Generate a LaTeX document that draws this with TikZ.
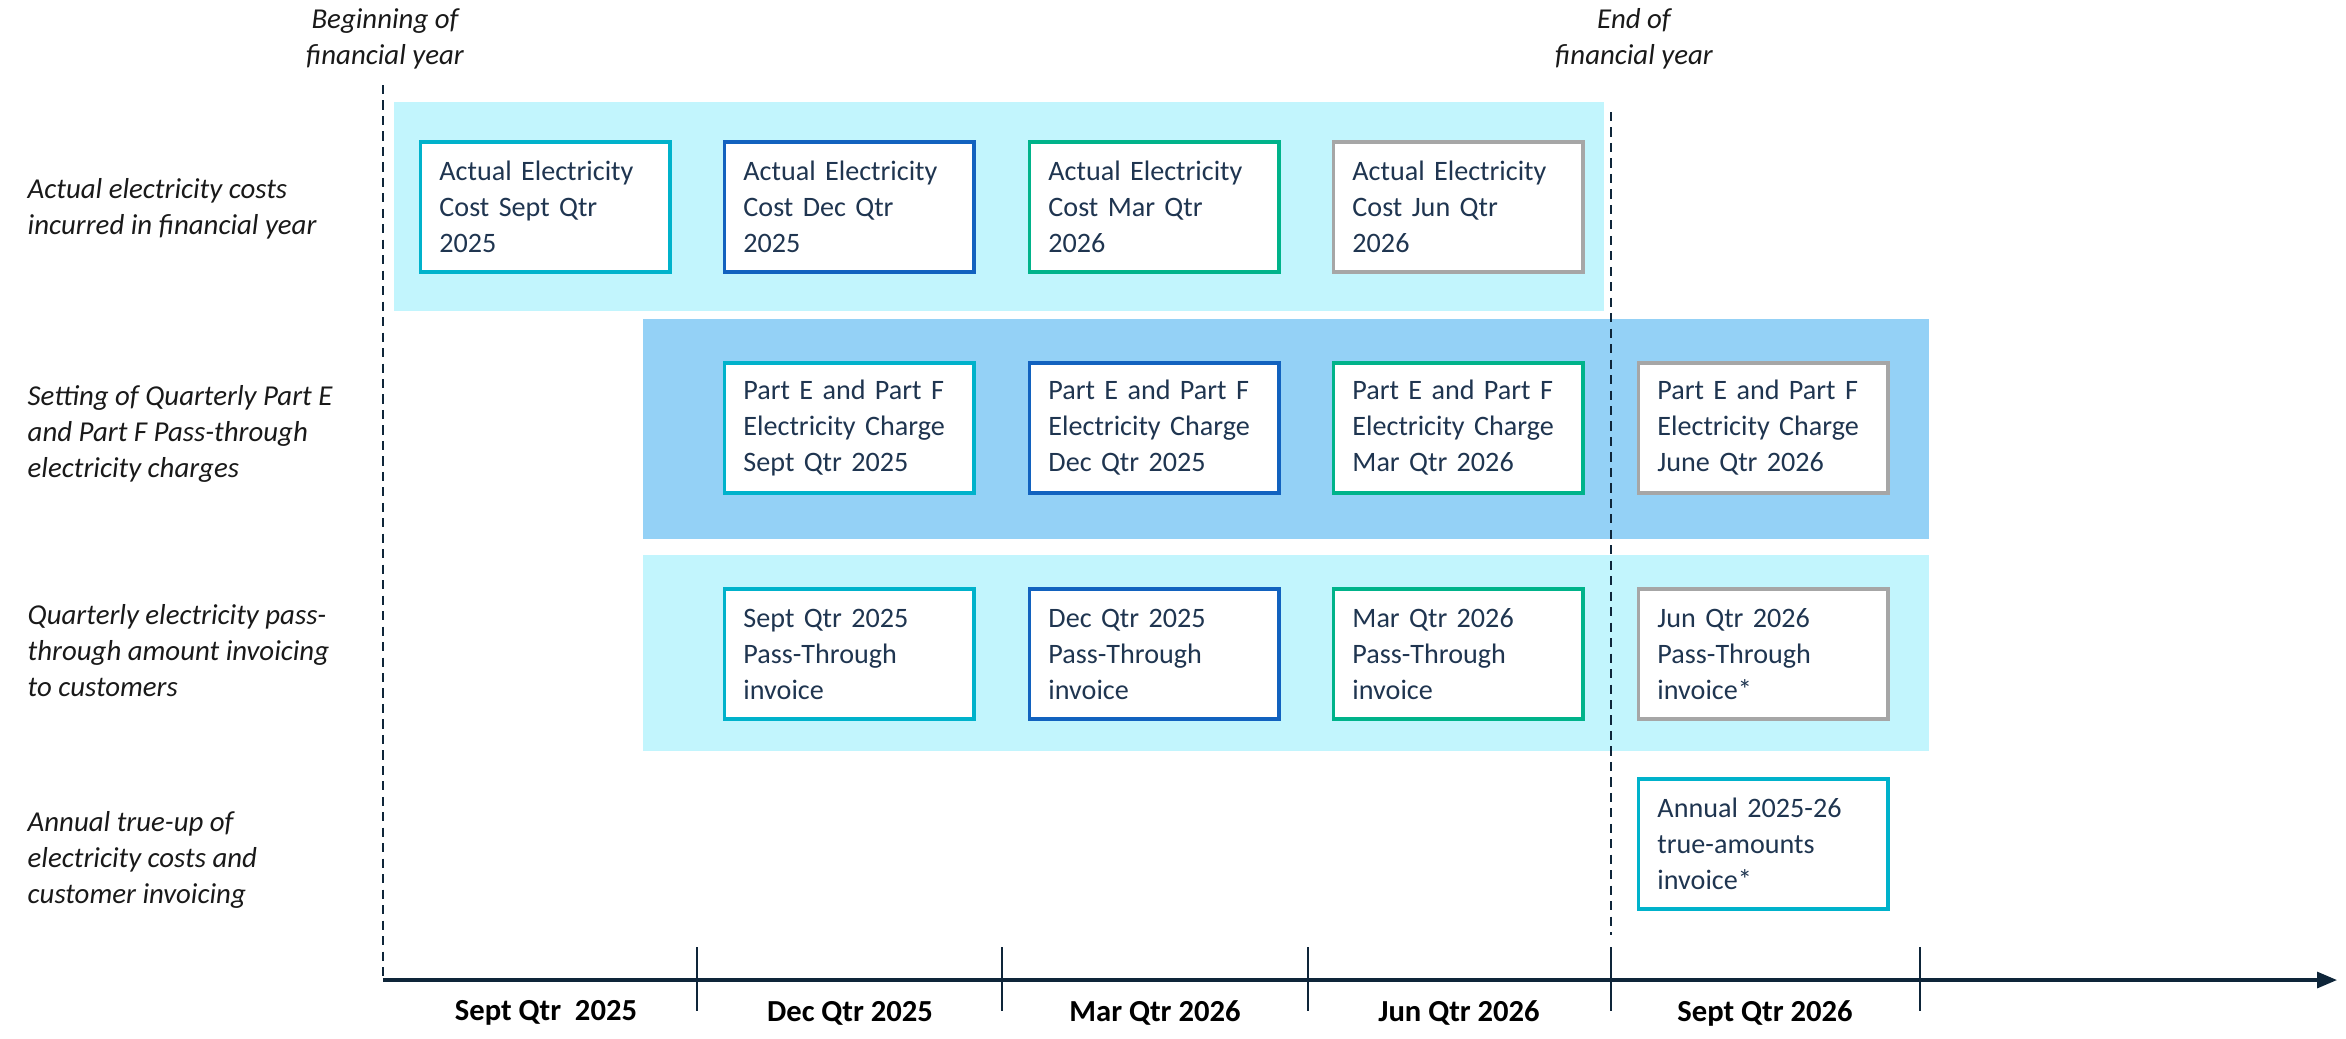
\documentclass[tikz,border=0pt]{standalone}
\usepackage{fontspec}
\setmainfont{Carlito}
\usetikzlibrary{arrows.meta}
\definecolor{bandlt}{HTML}{C2F5FD}
\definecolor{bandbl}{HTML}{94D1F6}
\definecolor{qsep}{HTML}{00B2CB}
\definecolor{qdec}{HTML}{1262BF}
\definecolor{qmar}{HTML}{00B38A}
\definecolor{qjun}{HTML}{A6A6A6}
\definecolor{ink}{HTML}{1F3550}
\definecolor{navy}{HTML}{0E2539}
\tikzset{qbox/.style={draw=#1,line width=1.1pt,fill=white,minimum width=2.49cm,minimum height=1.3cm,text width=2.11cm,inner xsep=0.19cm,align=left,text=ink,font=\fontsize{8}{10.24}\selectfont}}
\tikzset{rowlabel/.style={anchor=west,align=left,inner sep=0pt,text=black!90,font=\fontsize{8.2}{10.24}\selectfont\itshape}}
\tikzset{fylabel/.style={align=center,inner sep=0pt,text=black!90,font=\fontsize{8.2}{10.24}\selectfont\itshape}}
\tikzset{qlabel/.style={inner sep=0pt,text=black,font=\fontsize{8.7}{10.5}\selectfont\bfseries}}
\tikzset{fyline/.style={navy,line width=0.6pt,dash pattern=on 2.6pt off 1.8pt}}

\begin{document}
\begin{tikzpicture}[x=0.01cm,y=-0.01cm]
    \useasboundingbox (0,0) rectangle (2346,1038);
    % shaded bands
    \fill[bandlt] (394,102) rectangle (1604,311);
    \fill[bandbl] (643,319) rectangle (1929,539);
    \fill[bandlt] (643,555) rectangle (1929,751);
    % financial year markers
    \node[fylabel] (hb) at (385,39) {Beginning of\\financial year};
    \node[fylabel] (he) at (1634,39) {End of\\financial year};
    \coordinate (fy0) at (383,85);
    \coordinate (ax0) at (383,980);
    \coordinate (fy1) at (1611,112);
    \coordinate (fy2) at (1611,935);
    \coordinate (ax1) at (2337,980);
    \draw[fyline] (fy0) -- (ax0);
    \draw[fyline] (fy1) -- (fy2);
    % row labels
    \node[rowlabel] (l1) at (27,209) {Actual electricity costs\\incurred in financial year};
    \node[rowlabel] (l2) at (27,434) {Setting of Quarterly Part E\\and Part F Pass-through\\electricity charges};
    \node[rowlabel] (l3) at (27,651) {Quarterly electricity pass-\\through amount invoicing\\to customers};
    \node[rowlabel] (l4) at (27,860) {Annual true-up of\\electricity costs and\\customer invoicing};
    % actual costs
    \node[qbox=qsep] (a1) at (545,207) {Actual Electricity\\Cost Sept Qtr\\2025};
    \node[qbox=qdec] (a2) at (849,207) {Actual Electricity\\Cost Dec Qtr\\2025};
    \node[qbox=qmar] (a3) at (1154,207) {Actual Electricity\\Cost Mar Qtr\\2026};
    \node[qbox=qjun] (a4) at (1458,207) {Actual Electricity\\Cost Jun Qtr\\2026};
    % charges
    \node[qbox=qsep] (c1) at (849,428) {Part E and Part F\\Electricity Charge\\Sept Qtr 2025};
    \node[qbox=qdec] (c2) at (1154,428) {Part E and Part F\\Electricity Charge\\Dec Qtr 2025};
    \node[qbox=qmar] (c3) at (1458,428) {Part E and Part F\\Electricity Charge\\Mar Qtr 2026};
    \node[qbox=qjun] (c4) at (1763,428) {Part E and Part F\\Electricity Charge\\June Qtr 2026};
    % invoices
    \node[qbox=qsep] (p1) at (849,654) {Sept Qtr 2025\\Pass-Through\\invoice};
    \node[qbox=qdec] (p2) at (1154,654) {Dec Qtr 2025\\Pass-Through\\invoice};
    \node[qbox=qmar] (p3) at (1458,654) {Mar Qtr 2026\\Pass-Through\\invoice};
    \node[qbox=qjun] (p4) at (1763,654) {Jun Qtr 2026\\Pass-Through\\invoice*};
    \node[qbox=qsep] (t1) at (1763,844) {Annual 2025-26\\true-amounts\\invoice*};
    % time axis
    \draw[navy,line width=0.9pt,-{Triangle[length=0.2cm,width=0.16cm]}] (ax0) -- (ax1);
    \draw[navy,line width=0.5pt] (697,947) -- (697,1011);
    \draw[navy,line width=0.5pt] (1002,947) -- (1002,1011);
    \draw[navy,line width=0.5pt] (1308,947) -- (1308,1011);
    \draw[navy,line width=0.5pt] (1611,947) -- (1611,1011);
    \draw[navy,line width=0.5pt] (1920,947) -- (1920,1011);
    \node[qlabel] (q1) at (546,1013) {Sept Qtr\ \ 2025};
    \node[qlabel] (q2) at (850,1013) {Dec Qtr 2025};
    \node[qlabel] (q3) at (1155,1013) {Mar Qtr 2026};
    \node[qlabel] (q4) at (1459,1013) {Jun Qtr 2026};
    \node[qlabel] (q5) at (1765,1013) {Sept Qtr 2026};
\end{tikzpicture}
\end{document}
